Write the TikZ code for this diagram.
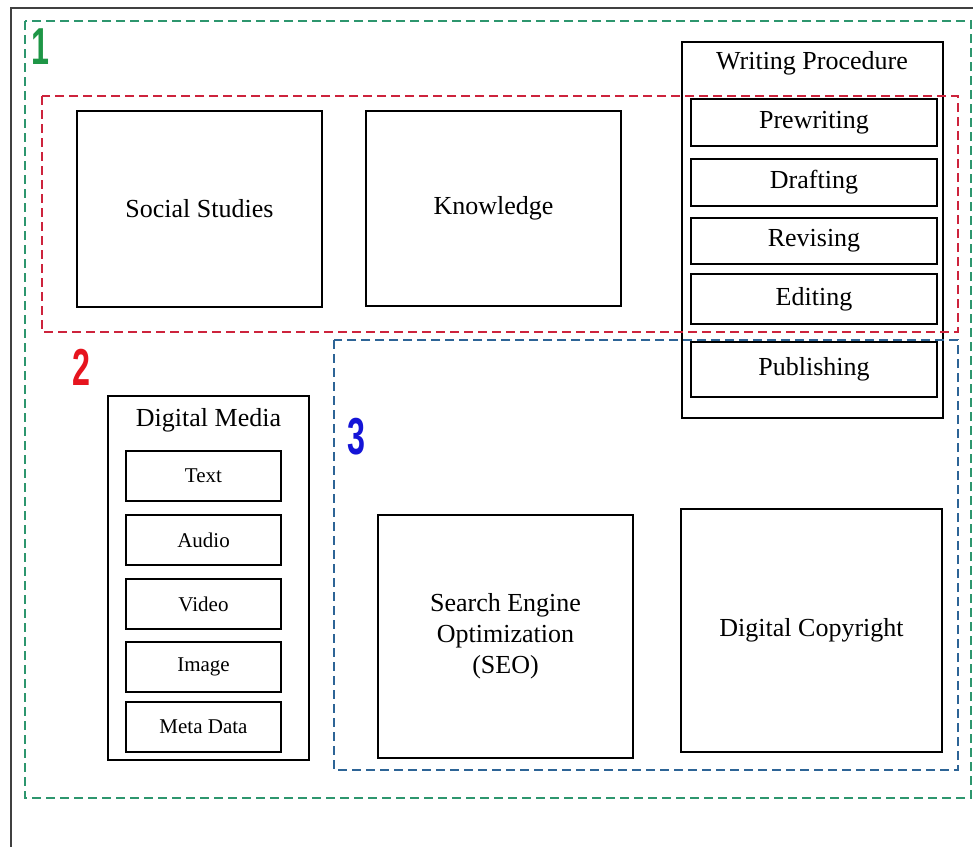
\documentclass[tikz,border=0pt]{standalone}
\usepackage{fontspec}
\setmainfont{Liberation Serif}
\setsansfont{Liberation Sans}
\definecolor{gdash}{RGB}{45,150,110}
\definecolor{rdash}{RGB}{205,35,60}
\definecolor{bdash}{RGB}{45,100,150}
\definecolor{gnum}{RGB}{30,150,70}
\definecolor{rnum}{RGB}{230,20,30}
\definecolor{bnum}{RGB}{20,20,215}
\tikzset{
  box/.style={draw=black, line width=1.4pt, fill=white, inner sep=0pt, align=center, font=\fontsize{26}{31}\selectfont},
  subbox/.style={box, font=\fontsize{21}{25}\selectfont},
  titletext/.style={inner sep=0pt, font=\fontsize{26}{31}\selectfont},
  zone/.style={dash pattern=on 9pt off 5pt, line width=1.3pt},
  num/.style={inner sep=0pt, font=\fontsize{52}{52}\sffamily\bfseries, xscale=0.62}
}
\begin{document}
\begin{tikzpicture}[x=1pt, y=-1pt]
\useasboundingbox (0,0) rectangle (973,846);
\fill[white] (0,0) rectangle (973,846);
% outer frame
\draw[line width=2pt, black!75] (11,8) rectangle (990,870);

% upper boxes
\node[box, minimum width=245pt, minimum height=196pt] (social) at (199.5,209) {Social Studies};
\node[box, minimum width=255pt, minimum height=195pt] (know) at (493.5,208.5) {Knowledge};

% writing procedure
\node[box, minimum width=261pt, minimum height=376pt] (wp) at (812.5,230) {};
\node[titletext] (wpt) at (812,63) {Writing Procedure};
\node[box, minimum width=246pt, minimum height=47pt] (pre) at (814,122.5) {Prewriting};
\node[box, minimum width=246pt, minimum height=47pt] (dra) at (814,182.5) {Drafting};
\node[box, minimum width=246pt, minimum height=46pt] (rev) at (814,241) {Revising};
\node[box, minimum width=246pt, minimum height=50pt] (edi) at (814,299) {Editing};
\node[box, minimum width=246pt, minimum height=55pt] (pub) at (814,369.5) {Publishing};

% digital media
\node[box, minimum width=201pt, minimum height=364pt] (dm) at (208.5,578) {};
\node[titletext] (dmt) at (208.5,420) {Digital Media};
\node[subbox, minimum width=155pt, minimum height=50pt] (txt) at (203.5,476) {Text};
\node[subbox, minimum width=155pt, minimum height=50pt] (aud) at (203.5,540) {Audio};
\node[subbox, minimum width=155pt, minimum height=50pt] (vid) at (203.5,604) {Video};
\node[subbox, minimum width=155pt, minimum height=50pt] (img) at (203.5,667) {Image};
\node[subbox, minimum width=155pt, minimum height=50pt] (meta) at (203.5,727) {Meta Data};

% lower boxes
\node[box, minimum width=255pt, minimum height=243pt] (seo) at (505.5,636.5) {Search Engine\\Optimization\\(SEO)};
\node[box, minimum width=261pt, minimum height=243pt] (dc) at (811.5,630.5) {Digital Copyright};

% zones
\draw[zone, gdash] (25,21) rectangle (971,798);
\draw[zone, rdash] (42,96) rectangle (958,332);
\draw[zone, bdash] (334,340) rectangle (958,770);

% zone numbers
\node[num, text=gnum] (n1) at (40,47) {1};
\node[num, text=rnum] (n2) at (81,367) {2};
\node[num, text=bnum] (n3) at (356,437) {3};
\end{tikzpicture}
\end{document}
